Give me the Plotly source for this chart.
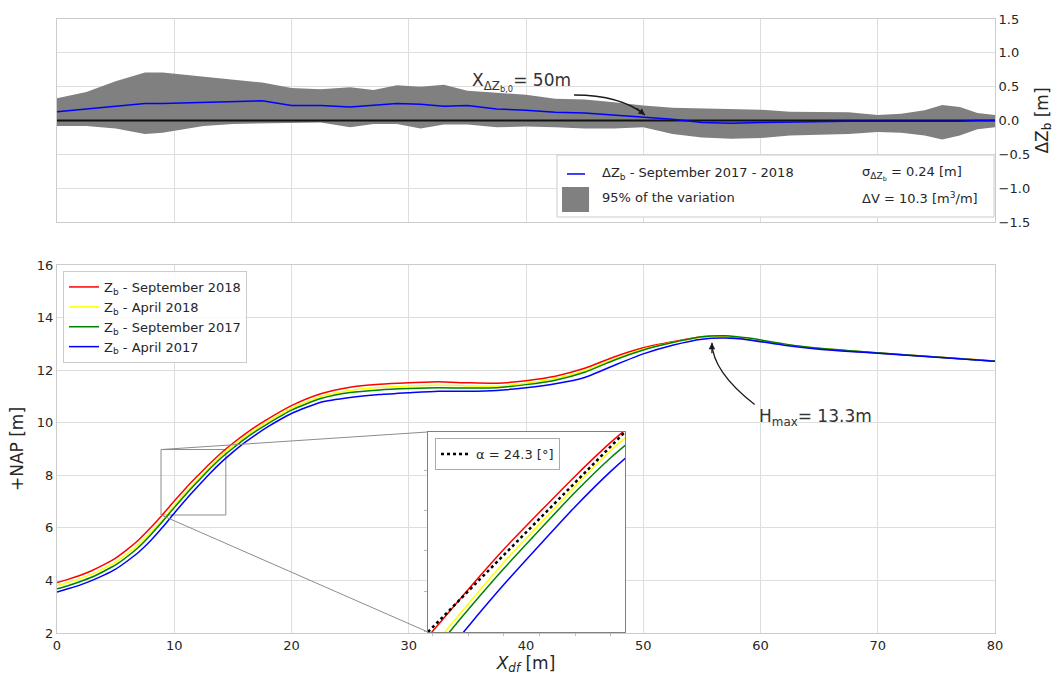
import plotly.graph_objects as go

# ---------------- top panel data (ΔZb) ----------------
DZ_X = [0, 2.5, 5, 7.5, 9, 12.5, 15, 17.5, 20, 22.5, 25, 27, 29, 31, 33, 35, 37.5, 40,
        42.5, 45, 47.5, 50, 52.5, 55, 57.5, 60, 62.5, 65, 67.5, 70, 72, 74, 75.5, 77, 78.5, 80]
DZ_MEAN = [0.13, 0.17, 0.21, 0.25, 0.25, 0.27, 0.28, 0.29, 0.22, 0.22, 0.20, 0.22, 0.25, 0.24,
           0.21, 0.22, 0.17, 0.15, 0.12, 0.11, 0.08, 0.05, 0.02, -0.03, -0.04, -0.03, -0.02,
           -0.02, -0.01, -0.01, -0.01, -0.02, -0.02, -0.01, 0.0, 0.0]
DZ_UPPER = [0.33, 0.42, 0.58, 0.71, 0.71, 0.65, 0.61, 0.56, 0.48, 0.46, 0.49, 0.45, 0.52, 0.50,
            0.53, 0.44, 0.41, 0.38, 0.32, 0.31, 0.27, 0.22, 0.19, 0.18, 0.17, 0.16, 0.13, 0.13,
            0.12, 0.08, 0.10, 0.15, 0.23, 0.20, 0.11, 0.08]
DZ_LOWER = [-0.08, -0.08, -0.12, -0.20, -0.18, -0.08, -0.05, -0.04, -0.04, -0.03, -0.10, -0.05,
            -0.05, -0.12, -0.06, -0.06, -0.10, -0.09, -0.10, -0.12, -0.12, -0.10, -0.20, -0.25,
            -0.27, -0.26, -0.22, -0.21, -0.20, -0.17, -0.18, -0.22, -0.28, -0.22, -0.13, -0.10]
BASELINE_X = [0, 80]
BASELINE_Y = [0, 0]

# ---------------- bottom panel data (profiles) ----------------
PROF_X = [0, 1, 2, 3, 4, 5, 6, 7, 8, 9, 10, 11, 12, 13, 14, 15, 16, 17, 18, 20, 22.5, 25,
          27.5, 30, 32.5, 35, 37.5, 40, 42.5, 45, 47.5, 50, 52.5, 55, 57, 59, 62, 65, 70, 75, 80]
Z_SEP2018 = [3.92, 4.05, 4.20, 4.38, 4.60, 4.85, 5.18, 5.56, 6.01, 6.50, 7.02, 7.52, 7.98,
             8.43, 8.85, 9.22, 9.56, 9.87, 10.15, 10.65, 11.10, 11.35, 11.46, 11.52, 11.56,
             11.52, 11.50, 11.60, 11.77, 12.07, 12.50, 12.85, 13.08, 13.27, 13.29, 13.18,
             12.98, 12.82, 12.65, 12.50, 12.35]
Z_APR2018 = [3.80, 3.93, 4.07, 4.25, 4.46, 4.70, 5.02, 5.39, 5.83, 6.31, 6.84, 7.36, 7.83,
             8.30, 8.75, 9.12, 9.46, 9.77, 10.05, 10.55, 11.00, 11.23, 11.34, 11.40, 11.43,
             11.40, 11.39, 11.50, 11.68, 11.98, 12.42, 12.80, 13.05, 13.26, 13.30, 13.20,
             12.98, 12.82, 12.65, 12.50, 12.35]
Z_SEP2017 = [3.68, 3.81, 3.96, 4.13, 4.35, 4.59, 4.91, 5.28, 5.74, 6.24, 6.77, 7.28, 7.76,
             8.23, 8.66, 9.03, 9.38, 9.69, 9.97, 10.48, 10.92, 11.15, 11.25, 11.30, 11.33,
             11.32, 11.33, 11.45, 11.62, 11.92, 12.38, 12.77, 13.05, 13.27, 13.31, 13.22,
             13.00, 12.83, 12.66, 12.50, 12.34]
Z_APR2017 = [3.56, 3.69, 3.83, 4.00, 4.20, 4.43, 4.74, 5.09, 5.52, 6.02, 6.56, 7.08, 7.57,
             8.05, 8.49, 8.88, 9.24, 9.56, 9.85, 10.35, 10.78, 10.96, 11.07, 11.14, 11.20,
             11.20, 11.23, 11.33, 11.48, 11.72, 12.18, 12.62, 12.95, 13.18, 13.22, 13.15,
             12.95, 12.80, 12.64, 12.49, 12.34]

SERIES = [
    ("Z<sub>b</sub> - September 2018", Z_SEP2018, "#ff0000"),
    ("Z<sub>b</sub> - April 2018", Z_APR2018, "#ffff00"),
    ("Z<sub>b</sub> - September 2017", Z_SEP2017, "#008000"),
    ("Z<sub>b</sub> - April 2017", Z_APR2017, "#0000ff"),
]

# inset (zoom) window and slope line
INSET_XRANGE = [8.87, 14.4]
INSET_YRANGE = [6.49, 8.98]
ALPHA_X = [8.87, 14.4]
ALPHA_Y = [6.49, 8.98]
ALPHA_LABEL = "α = 24.3 [°]"

# annotation anchors
XDZ0 = 50.15          # X_ΔZb,0 arrow tip
HMAX_X, HMAX_Y = 55.86, 13.04

FONT = "DejaVu Sans"
TXT = "#262626"
GRID = "#dedede"
SPINE = "#cccccc"

# layout geometry (paper fractions)
TOP_DOM = [0.6694, 1.0]
BOT_DOM = [0.0, 0.5993]
INSET_XDOM = [0.3955, 0.6055]
INSET_YDOM = [0.0016, 0.3274]

fig = go.Figure()

# ---- top panel ----
fig.add_trace(go.Scatter(x=DZ_X, y=DZ_UPPER, mode="lines", line=dict(width=0, color="#808080"),
                         showlegend=False, hoverinfo="skip", xaxis="x", yaxis="y"))
fig.add_trace(go.Scatter(x=DZ_X, y=DZ_LOWER, mode="lines", line=dict(width=0, color="#808080"),
                         fill="tonexty", fillcolor="#808080", showlegend=False,
                         hoverinfo="skip", xaxis="x", yaxis="y"))
fig.add_trace(go.Scatter(x=BASELINE_X, y=BASELINE_Y, mode="lines",
                         line=dict(width=2, color="#111111"), showlegend=False,
                         xaxis="x", yaxis="y"))
fig.add_trace(go.Scatter(x=DZ_X, y=DZ_MEAN, mode="lines", line=dict(width=1.5, color="#0000ff"),
                         showlegend=False, xaxis="x", yaxis="y"))

# ---- bottom panel ----
for name, vals, col in SERIES:
    fig.add_trace(go.Scatter(x=PROF_X, y=vals, mode="lines", name=name,
                             line=dict(width=1.5, color=col, shape="spline", smoothing=0.6),
                             legend="legend", xaxis="x2", yaxis="y2"))

# ---- inset ----
fig.add_trace(go.Scatter(x=[INSET_XRANGE[0], INSET_XRANGE[1], INSET_XRANGE[1], INSET_XRANGE[0], INSET_XRANGE[0]],
                         y=[INSET_YRANGE[0], INSET_YRANGE[0], INSET_YRANGE[1], INSET_YRANGE[1], INSET_YRANGE[0]],
                         mode="lines", fill="toself", fillcolor="white", line=dict(width=0, color="white"),
                         showlegend=False, hoverinfo="skip", xaxis="x3", yaxis="y3"))
for name, vals, col in SERIES:
    fig.add_trace(go.Scatter(x=PROF_X, y=vals, mode="lines", showlegend=False,
                             line=dict(width=1.5, color=col, shape="spline", smoothing=0.6),
                             xaxis="x3", yaxis="y3"))
fig.add_trace(go.Scatter(x=ALPHA_X, y=ALPHA_Y, mode="lines", name=ALPHA_LABEL,
                         line=dict(width=2.5, color="black", dash="dot"),
                         legend="legend2", xaxis="x3", yaxis="y3"))

axis_common = dict(showgrid=True, gridcolor=GRID, gridwidth=1, showline=True, linecolor=SPINE,
                   linewidth=1, mirror=True, zeroline=False, ticks="", automargin=False,
                   tickfont=dict(family=FONT, size=13, color=TXT))

fig.update_layout(
    width=1057, height=677, template="none",
    paper_bgcolor="white", plot_bgcolor="white",
    margin=dict(l=57, r=62, t=19, b=44),
    font=dict(family=FONT, size=13, color=TXT),
    xaxis=dict(axis_common, domain=[0, 1], anchor="y", range=[0, 80], dtick=10,
               showticklabels=False),
    yaxis=dict(axis_common, domain=TOP_DOM, anchor="x", range=[-1.5, 1.5], dtick=0.5,
               side="right", tickformat=".1f",
               title=dict(text="ΔZ<sub>b</sub> [m]", font=dict(family=FONT, size=17, color=TXT),
                          standoff=6)),
    xaxis2=dict(axis_common, domain=[0, 1], anchor="y2", range=[0, 80], dtick=10,
                title=dict(text="<i>X<sub>df</sub></i> [m]", font=dict(family=FONT, size=17, color=TXT),
                           standoff=3)),
    yaxis2=dict(axis_common, domain=BOT_DOM, anchor="x2", range=[2, 16], dtick=2,
                title=dict(text="+NAP [m]", font=dict(family=FONT, size=17, color=TXT),
                           standoff=8)),
    xaxis3=dict(domain=INSET_XDOM, anchor="y3", range=INSET_XRANGE, showgrid=False,
                showticklabels=False, showline=True, mirror=True, linecolor="#808080",
                linewidth=1, zeroline=False, ticks="outside", ticklen=3, tickcolor="#bbbbbb",
                dtick=1, automargin=False),
    yaxis3=dict(domain=INSET_YDOM, anchor="x3", range=INSET_YRANGE, showgrid=False,
                showticklabels=False, showline=True, mirror=True, linecolor="#808080",
                linewidth=1, zeroline=False, ticks="outside", ticklen=3, tickcolor="#bbbbbb",
                dtick=0.5, automargin=False),
    legend=dict(x=0.0064, y=0.5896, xanchor="left", yanchor="top", traceorder="normal",
                bgcolor="rgba(255,255,255,0.85)", bordercolor=SPINE, borderwidth=1,
                font=dict(family=FONT, size=13, color=TXT), tracegroupgap=0),
    legend2=dict(x=0.403, y=0.3176, xanchor="left", yanchor="top",
                 bgcolor="white", bordercolor="#aaaaaa", borderwidth=1,
                 font=dict(family=FONT, size=13, color=TXT)),
    showlegend=True,
)

# ---- zoom rectangle and connectors ----
def to_paper(v, rng, dom):
    return dom[0] + (v - rng[0]) / (rng[1] - rng[0]) * (dom[1] - dom[0])

fig.add_shape(type="rect", xref="x2", yref="y2", x0=INSET_XRANGE[0], x1=INSET_XRANGE[1],
              y0=INSET_YRANGE[0], y1=INSET_YRANGE[1], line=dict(color="#8c8c8c", width=1),
              layer="between")
rx = to_paper(INSET_XRANGE[0], [0, 80], [0, 1])
ry_top = to_paper(INSET_YRANGE[1], [2, 16], BOT_DOM)
ry_bot = to_paper(INSET_YRANGE[0], [2, 16], BOT_DOM)
fig.add_shape(type="line", xref="paper", yref="paper", x0=rx, y0=ry_top,
              x1=INSET_XDOM[0], y1=INSET_YDOM[1], line=dict(color="#8c8c8c", width=1))
fig.add_shape(type="line", xref="paper", yref="paper", x0=rx, y0=ry_bot,
              x1=INSET_XDOM[0], y1=INSET_YDOM[0], line=dict(color="#8c8c8c", width=1))

# ---- top legend (manual box) ----
fig.add_shape(type="rect", xref="paper", yref="paper", x0=0.533, x1=0.999, y0=0.6775, y1=0.7785,
              fillcolor="white", line=dict(color=SPINE, width=1), layer="above")
fig.add_shape(type="line", xref="paper", yref="paper", x0=0.5437, x1=0.5629, y0=0.7476, y1=0.7476,
              line=dict(color="#0000ff", width=1.5), layer="above")
fig.add_shape(type="rect", xref="paper", yref="paper", x0=0.5384, x1=0.5672, y0=0.6857, y1=0.7264,
              fillcolor="#808080", line=dict(color="#808080", width=0), layer="above")
leg_items = [
    (0.5789, 0.7476, "ΔZ<sub>b</sub> - September 2017 - 2018"),
    (0.5789, 0.7085, "95% of the variation"),
    (0.856, 0.7476, "σ<sub>ΔZ<sub>b</sub></sub> = 0.24 [m]"),
    (0.856, 0.7085, "ΔV = 10.3 [m<sup>3</sup>/m]"),
]
for x, y, t in leg_items:
    fig.add_annotation(x=x, y=y, xref="paper", yref="paper", text=t, showarrow=False,
                       xanchor="left", yanchor="middle", font=dict(family=FONT, size=13, color=TXT))

# ---- X_ΔZb,0 annotation with curved arrow ----
fig.add_annotation(x=35.2, y=0.57, xref="x", yref="y", text="X<sub>ΔZ<sub>b,0</sub></sub>= 50m",
                   showarrow=False, xanchor="left", yanchor="middle",
                   font=dict(family=FONT, size=17, color="#333333"))
fig.add_shape(type="path", xref="x", yref="y",
              path=f"M 44.1,0.377 Q 48.06,0.377 {XDZ0},0.081",
              line=dict(color="#1a1a1a", width=1.3), layer="above")
fig.add_annotation(x=XDZ0, y=0.081, xref="x", yref="y", text="", showarrow=True,
                   arrowhead=2, arrowsize=1, arrowwidth=1.3, arrowcolor="#1a1a1a",
                   ax=-10, ay=-8)

# ---- Hmax annotation with curved arrow ----
fig.add_annotation(x=59.7, y=10.19, xref="x2", yref="y2", text="H<sub>max</sub>= 13.3m",
                   showarrow=False, xanchor="left", yanchor="middle",
                   font=dict(family=FONT, size=17, color="#333333"))
fig.add_shape(type="path", xref="x2", yref="y2",
              path=f"M 59.5,10.69 Q 55.9,11.94 {HMAX_X},{HMAX_Y}",
              line=dict(color="#1a1a1a", width=1.3), layer="above")
fig.add_annotation(x=HMAX_X, y=HMAX_Y, xref="x2", yref="y2", text="", showarrow=True,
                   arrowhead=2, arrowsize=1, arrowwidth=1.3, arrowcolor="#1a1a1a",
                   ax=0, ay=12)

fig.write_html("out.html", config={"displayModeBar": False},
               post_script="document.body.style.margin='0';")
